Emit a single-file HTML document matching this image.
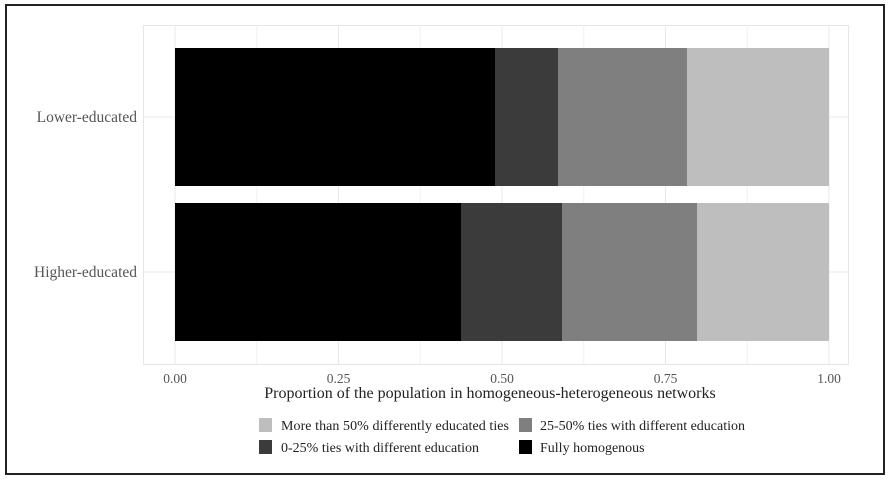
<!DOCTYPE html><html><head><style>body{margin:0;background:#fff}</style></head><body>
<svg width="891" height="481" xmlns="http://www.w3.org/2000/svg" font-family="'Liberation Serif',serif">
<rect x="0" y="0" width="891" height="481" fill="#fff"/>
<rect x="6" y="5" width="878" height="469" fill="none" stroke="#222" stroke-width="2"/>
<rect x="143.5" y="25.5" width="705" height="339" fill="none" stroke="#e6e6e6"/>
<g stroke="#f0f0f0"><line x1="256.75" y1="25" x2="256.75" y2="364"/><line x1="420.25" y1="25" x2="420.25" y2="364"/><line x1="583.75" y1="25" x2="583.75" y2="364"/><line x1="747.25" y1="25" x2="747.25" y2="364"/></g>
<g stroke="#e8e8e8"><line x1="175" y1="25" x2="175" y2="364"/><line x1="338.5" y1="25" x2="338.5" y2="364"/><line x1="502" y1="25" x2="502" y2="364"/><line x1="665.5" y1="25" x2="665.5" y2="364"/><line x1="829" y1="25" x2="829" y2="364"/><line x1="143" y1="117" x2="848" y2="117"/><line x1="143" y1="272" x2="848" y2="272"/></g>
<rect x="175" y="48" width="320" height="138" fill="#000"/><rect x="495" y="48" width="63" height="138" fill="#3b3b3b"/><rect x="558" y="48" width="129" height="138" fill="#7f7f7f"/><rect x="687" y="48" width="142" height="138" fill="#bebebe"/>
<rect x="175" y="203" width="286" height="138" fill="#000"/><rect x="461" y="203" width="101" height="138" fill="#3b3b3b"/><rect x="562" y="203" width="135" height="138" fill="#7f7f7f"/><rect x="697" y="203" width="132" height="138" fill="#bebebe"/>
<g fill="#555" font-size="15.5" text-anchor="end"><text x="137" y="122">Lower-educated</text><text x="137" y="277">Higher-educated</text></g>
<g fill="#555" font-size="13.5" text-anchor="middle"><text x="175" y="383">0.00</text><text x="338.5" y="383">0.25</text><text x="502" y="383">0.50</text><text x="665.5" y="383">0.75</text><text x="829" y="383">1.00</text></g>
<text x="490" y="398" font-size="16" text-anchor="middle" fill="#222">Proportion of the population in homogeneous-heterogeneous networks</text>
<rect x="259" y="418" width="13" height="14" fill="#bebebe"/><rect x="519" y="418" width="13" height="14" fill="#7f7f7f"/>
<rect x="259" y="440" width="13" height="14" fill="#3b3b3b"/><rect x="519" y="440" width="13" height="14" fill="#000"/>
<g font-size="14" fill="#222"><text x="281" y="430" textLength="228">More than 50% differently educated ties</text><text x="540" y="430">25-50% ties with different education</text><text x="281" y="452">0-25% ties with different education</text><text x="540" y="452">Fully homogenous</text></g>
</svg></body></html>
